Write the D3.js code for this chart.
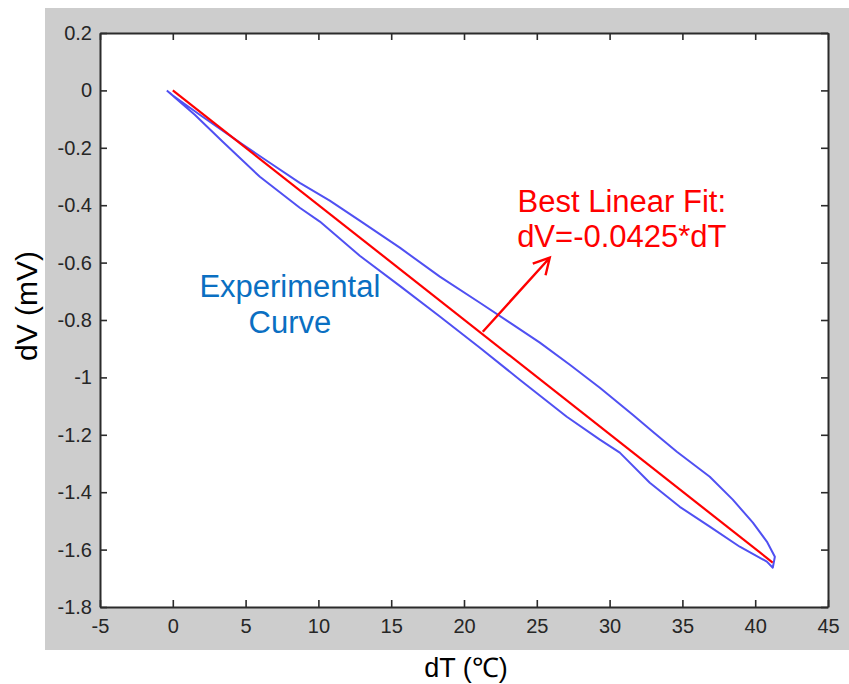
<!DOCTYPE html>
<html>
<head>
<meta charset="utf-8">
<script src="https://cdn.jsdelivr.net/npm/d3@7"></script>
<style>
  body { margin: 0; background: #fff; }
  text { font-family: "Liberation Sans", Arial, sans-serif; }
</style>
</head>
<body>
<div class="container"></div>
<script>
// tick values and labels
const xTicks = [-5, 0, 5, 10, 15, 20, 25, 30, 35, 40, 45];
const xTickLabels = ["-5", "0", "5", "10", "15", "20", "25", "30", "35", "40", "45"];
const yTicks = [0.2, 0, -0.2, -0.4, -0.6, -0.8, -1, -1.2, -1.4, -1.6, -1.8];
const yTickLabels = ["0.2", "0", "-0.2", "-0.4", "-0.6", "-0.8", "-1", "-1.2", "-1.4", "-1.6", "-1.8"];

// experimental loop, heating branch (upper) then cooling branch (lower)
const curveT = [-0.41, -0.07, 1.85, 4.81, 6.66, 8.72, 10.78, 12.84, 15.59, 18.34, 21.09, 23.15,
  25.21, 27.27, 29.33, 31.59, 32.97, 34.62, 36.88, 38.46, 39.84, 40.80, 41.35, 41.21,
  40.80, 38.94, 36.88, 34.82, 32.76, 30.70, 29.33, 27.06, 23.83, 21.09, 18.34, 15.59,
  12.84, 10.10, 8.72, 5.98, 3.43, 1.51, 0.14, -0.21];
const curveV = [0.00, -0.015, -0.085, -0.189, -0.252, -0.322, -0.384, -0.454, -0.548, -0.649, -0.740, -0.809,
  -0.879, -0.956, -1.036, -1.130, -1.189, -1.259, -1.346, -1.426, -1.506, -1.572, -1.625, -1.663,
  -1.642, -1.590, -1.520, -1.451, -1.367, -1.262, -1.217, -1.137, -1.008, -0.897, -0.788, -0.681,
  -0.576, -0.457, -0.409, -0.301, -0.179, -0.085, -0.025, -0.008];

// best linear fit segment
const fitT = [0, 41.2];
const fitV = [0, -1.645];

// annotation arrow (data coords)
const arrowT = [21.29, 25.89];
const arrowV = [-0.841, -0.583];

const width = 849;
const height = 684;

const svg = d3.select(".container")
  .append("svg")
  .attr("width", width)
  .attr("height", height);

// grey figure background
svg.append("rect")
  .attr("x", 45).attr("y", 8)
  .attr("width", width - 45).attr("height", 642)
  .attr("fill", "#cdcdcd");

const x = d3.scaleLinear().domain([-5, 45]).range([100, 828]);
const y = d3.scaleLinear().domain([-1.8, 0.2]).range([607, 33]);

svg.append("rect")
  .attr("x", x(-5)).attr("y", y(0.2))
  .attr("width", x(45) - x(-5)).attr("height", y(-1.8) - y(0.2))
  .attr("fill", "#fff");

// blue loop
const pts = curveT.map((t, i) => [t, curveV[i]]);
svg.append("path")
  .datum(pts)
  .attr("d", d3.line().x(d => x(d[0])).y(d => y(d[1])))
  .attr("fill", "none")
  .attr("stroke", "#5050f2")
  .attr("stroke-width", 2)
  .attr("stroke-linejoin", "round");

// red fit line
svg.append("line")
  .attr("x1", x(fitT[0])).attr("y1", y(fitV[0]))
  .attr("x2", x(fitT[1])).attr("y2", y(fitV[1]))
  .attr("stroke", "#ff0000")
  .attr("stroke-width", 2.2);

// arrow
const ax1 = x(arrowT[0]), ay1 = y(arrowV[0]);
const ax2 = x(arrowT[1]), ay2 = y(arrowV[1]);
const ang = Math.atan2(ay2 - ay1, ax2 - ax1);
const headLen = 18, headAng = 0.5;
svg.append("path")
  .attr("d", `M${ax1},${ay1}L${ax2},${ay2}` +
    `M${ax2 - headLen * Math.cos(ang - headAng)},${ay2 - headLen * Math.sin(ang - headAng)}L${ax2},${ay2}` +
    `L${ax2 - headLen * Math.cos(ang + headAng)},${ay2 - headLen * Math.sin(ang + headAng)}`)
  .attr("fill", "none")
  .attr("stroke", "#ff0000")
  .attr("stroke-width", 2.4);

// axes, ticks pointing inward
const styleAxis = g => {
  g.selectAll("path.domain").attr("stroke", "#2b2b2b").attr("stroke-width", 2);
  g.selectAll(".tick line").attr("stroke", "#2b2b2b").attr("stroke-width", 1.6);
  g.selectAll(".tick text").attr("fill", "#262626").style("font-size", "20px");
};

svg.append("g")
  .attr("transform", `translate(0,${y(-1.8)})`)
  .call(d3.axisBottom(x).tickValues(xTicks).tickFormat((d, i) => xTickLabels[i])
    .tickSizeInner(-7).tickSizeOuter(0).tickPadding(12))
  .call(styleAxis);

svg.append("g")
  .attr("transform", `translate(${x(-5)},0)`)
  .call(d3.axisLeft(y).tickValues(yTicks).tickFormat((d, i) => yTickLabels[i])
    .tickSizeInner(-7).tickSizeOuter(0).tickPadding(8))
  .call(styleAxis);

svg.append("g")
  .attr("transform", `translate(0,${y(0.2)})`)
  .call(d3.axisTop(x).tickValues(xTicks).tickFormat("").tickSizeInner(-7).tickSizeOuter(0))
  .call(styleAxis);

svg.append("g")
  .attr("transform", `translate(${x(45)},0)`)
  .call(d3.axisRight(y).tickValues(yTicks).tickFormat("").tickSizeInner(-7).tickSizeOuter(0))
  .call(styleAxis);

svg.selectAll(".tick text").attr("font-family", null);

// axis labels
svg.append("text")
  .attr("x", 466).attr("y", 677)
  .attr("text-anchor", "middle")
  .style("font-size", "27px")
  .text("dT (℃)");

svg.append("text")
  .attr("transform", "translate(37,306) rotate(-90)")
  .attr("text-anchor", "middle")
  .style("font-size", "30px")
  .text("dV (mV)");

// annotations
svg.append("text")
  .attr("x", x(8.04)).attr("y", y(-0.719))
  .attr("text-anchor", "middle")
  .attr("fill", "#0a6fc2")
  .style("font-size", "31px")
  .text("Experimental");
svg.append("text")
  .attr("x", x(8.04)).attr("y", y(-0.845))
  .attr("text-anchor", "middle")
  .attr("fill", "#0a6fc2")
  .style("font-size", "31px")
  .text("Curve");

svg.append("text")
  .attr("x", x(30.84)).attr("y", y(-0.423))
  .attr("text-anchor", "middle")
  .attr("fill", "#ff0000")
  .style("font-size", "31px")
  .text("Best Linear Fit:");
svg.append("text")
  .attr("x", x(30.84)).attr("y", y(-0.545))
  .attr("text-anchor", "middle")
  .attr("fill", "#ff0000")
  .style("font-size", "31px")
  .text("dV=-0.0425*dT");
</script>
</body>
</html>
